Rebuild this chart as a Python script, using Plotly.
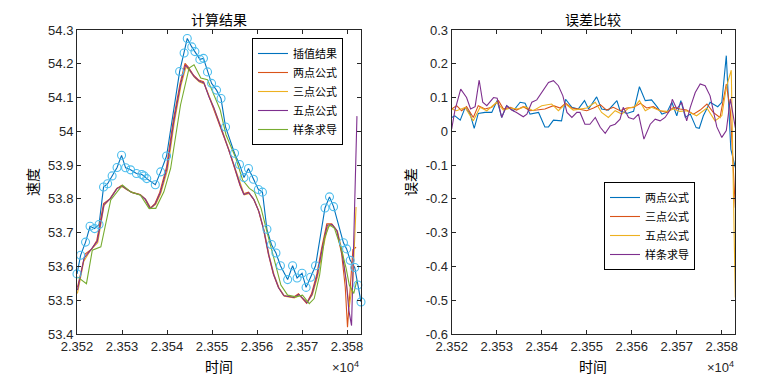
import plotly.graph_objects as go

T0 = 23520
# ---- left: observed / interpolated speed (time offset from 23520, value)
obs_t = [0.0, 0.8, 1.9, 2.9, 3.9, 4.9, 5.9, 6.8, 7.8, 8.9, 9.9, 10.8, 11.9, 13.2, 14.4, 14.9, 15.5, 17.4, 18.6, 19.9,
         22.8, 23.8, 24.5, 25.5, 26.2, 27.3, 28.1, 29.0, 29.9, 31.0, 32.0, 33.0, 35.0, 36.1, 37.1, 38.1, 39.2, 40.3,
         41.2, 42.2, 43.2, 44.2, 45.2, 46.8, 47.9, 48.9, 50.0, 50.9, 51.9, 53.0, 55.1, 56.1, 57.0, 59.2, 59.9, 60.7,
         61.7, 62.4, 63.1]
obs_v = [53.578, 53.633, 53.672, 53.719, 53.712, 53.724, 53.835, 53.845, 53.868, 53.893, 53.929, 53.892, 53.886,
         53.875, 53.872, 53.868, 53.860, 53.842, 53.880, 53.927, 54.177, 54.232, 54.275, 54.250, 54.236, 54.213,
         54.216, 54.176, 54.142, 54.122, 54.097, 54.013, 53.935, 53.902, 53.863, 53.890, 53.858, 53.828, 53.820,
         53.710, 53.665, 53.640, 53.602, 53.561, 53.602, 53.566, 53.580, 53.538, 53.568, 53.602, 53.773, 53.806,
         53.777, 53.670, 53.652, 53.618, 53.597, 53.545, 53.495]

two_t = [0.1, 1.8, 3.3, 4.4, 5.9, 7.3, 8.8, 9.9, 11.0, 12.1, 14.0, 15.1, 16.2, 17.3, 18.4, 19.9, 21.4, 22.9, 24.0,
         24.7, 25.9, 27.0, 28.1, 29.2, 30.3, 31.4, 32.5, 33.6, 34.7, 36.2, 37.0, 38.1, 39.2, 40.3, 41.4, 42.5, 43.6,
         44.7, 45.9, 48.1, 49.2, 49.9, 51.0, 52.1, 53.3, 54.4, 55.5, 56.6, 57.7, 58.8, 59.6, 60.1, 61.3, 62.0]
two_v = [53.538, 53.637, 53.652, 53.677, 53.786, 53.800, 53.830, 53.840, 53.830, 53.820, 53.813, 53.800, 53.771,
         53.786, 53.820, 53.895, 54.033, 54.142, 54.201, 54.191, 54.166, 54.152, 54.147, 54.107, 54.073, 54.033,
         53.993, 53.949, 53.904, 53.840, 53.815, 53.820, 53.800, 53.766, 53.712, 53.637, 53.578, 53.539, 53.514,
         53.509, 53.519, 53.509, 53.491, 53.519, 53.578, 53.657, 53.726, 53.726, 53.707, 53.637, 53.539, 53.420,
         53.650, 53.657]

three_t = [0.1, 1.5, 3.0, 4.6, 6.0, 7.5, 9.0, 10.1, 11.2, 12.3, 14.1, 15.3, 16.4, 17.5, 18.6, 20.1, 21.6, 23.1, 24.2,
           24.9, 26.1, 27.2, 28.3, 29.4, 30.5, 31.6, 32.7, 33.8, 34.9, 36.4, 37.2, 38.3, 39.4, 40.5, 41.6, 42.7, 43.8,
           44.9, 46.1, 48.3, 49.4, 50.1, 51.2, 52.3, 53.5, 54.6, 55.7, 56.8, 57.9, 59.0, 59.8, 60.5, 61.3, 62.0]
three_v = [53.520, 53.615, 53.648, 53.670, 53.780, 53.803, 53.833, 53.836, 53.826, 53.818, 53.812, 53.798, 53.773,
           53.784, 53.816, 53.885, 54.025, 54.135, 54.190, 54.182, 54.160, 54.146, 54.140, 54.100, 54.066, 54.028,
           53.988, 53.944, 53.900, 53.838, 53.812, 53.816, 53.796, 53.760, 53.705, 53.632, 53.575, 53.536, 53.512,
           53.507, 53.515, 53.506, 53.494, 53.516, 53.572, 53.650, 53.718, 53.722, 53.703, 53.640, 53.560, 53.480,
           53.560, 53.776]

five_t = [0.1, 1.6, 3.1, 4.5, 6.0, 7.4, 8.9, 10.0, 11.1, 12.2, 14.0, 15.2, 16.3, 17.4, 18.5, 20.0, 21.5, 23.0, 24.1,
          24.8, 26.0, 27.1, 28.2, 29.3, 30.4, 31.5, 32.6, 33.7, 34.8, 36.3, 37.1, 38.2, 39.3, 40.4, 41.5, 42.6, 43.7,
          44.8, 46.0, 48.2, 49.3, 50.0, 51.1, 52.2, 53.4, 54.5, 55.6, 56.7, 57.8, 58.9, 59.8, 60.4, 61.0, 62.2]
five_v = [53.530, 53.625, 53.650, 53.674, 53.783, 53.801, 53.831, 53.838, 53.828, 53.819, 53.812, 53.799, 53.772,
          53.785, 53.818, 53.890, 54.029, 54.138, 54.196, 54.186, 54.163, 54.149, 54.143, 54.103, 54.070, 54.030,
          53.990, 53.946, 53.902, 53.839, 53.813, 53.818, 53.798, 53.763, 53.708, 53.634, 53.576, 53.537, 53.513,
          53.508, 53.517, 53.507, 53.492, 53.517, 53.575, 53.654, 53.722, 53.724, 53.705, 53.637, 53.560, 53.470,
          53.425, 54.045]

spl_t = [0.1, 2.1, 3.4, 5.3, 7.5, 10.1, 11.9, 14.1, 16.0, 17.5, 19.3, 20.8, 23.0, 24.9, 26.0, 27.5, 29.0, 30.4,
         31.8, 33.1, 35.3, 36.8, 38.3, 39.4, 40.9, 42.4, 43.9, 45.3, 46.8, 48.7, 50.1, 51.6, 52.7, 53.9, 55.0, 56.1,
         57.2, 58.7, 59.8, 60.5, 61.5, 62.2]
spl_v = [53.569, 53.549, 53.648, 53.658, 53.797, 53.841, 53.821, 53.811, 53.772, 53.772, 53.821, 53.890, 54.078,
         54.187, 54.197, 54.158, 54.153, 54.108, 54.064, 53.990, 53.920, 53.856, 53.831, 53.821, 53.772, 53.693,
         53.614, 53.545, 53.515, 53.510, 53.515, 53.490, 53.505, 53.574, 53.683, 53.723, 53.713, 53.653, 53.594,
         53.545, 53.520, 53.560]

# ---- right: errors
e2_t = [0, 0.7, 1.9, 3.0, 4.1, 5.0, 5.9, 7.4, 8.9, 10.1, 11.1, 12.2, 13.7, 15.2, 16.3, 17.4, 19.3, 20.7, 21.5, 22.6,
        24.4, 25.3, 26.7, 28.1, 29.5, 30.4, 32.2, 33.3, 34.8, 36.7, 37.4, 38.9, 40.4, 41.7, 43.0, 44.4, 45.6, 46.7,
        47.8, 48.9, 50.0, 50.9, 51.9, 53.0, 54.3, 55.0, 55.9, 57.4, 59.1, 60.0, 61.0, 62.0, 63.0]
e2_v = [0.041, 0.046, 0.033, 0.071, 0.051, 0.009, 0.053, 0.056, 0.056, 0.091, 0.041, 0.076, 0.061, 0.086, 0.083,
        0.051, 0.056, 0.013, 0.013, 0.033, 0.031, 0.095, 0.071, 0.066, 0.091, 0.066, 0.102, 0.066, 0.063, 0.091,
        0.061, 0.053, 0.059, 0.132, 0.091, 0.093, 0.073, 0.051, 0.056, 0.086, 0.046, 0.091, 0.041, 0.051, 0.011,
        0.009, 0.046, 0.086, 0.073, 0.086, 0.224, -0.053, -0.107]

e3_t = [0, 1.1, 2.2, 3.3, 4.8, 5.9, 7.4, 8.9, 10.4, 11.5, 13.0, 14.4, 15.9, 17.4, 18.9, 20.7, 22.6, 24.1, 25.3, 26.7,
        28.1, 30.0, 31.5, 33.0, 34.4, 35.9, 37.4, 38.9, 40.4, 41.9, 43.3, 44.8, 46.3, 47.8, 49.3, 50.7, 52.2, 53.7,
        55.2, 56.7, 58.1, 59.6, 61.0, 61.9, 63.0]
e3_v = [0.066, 0.076, 0.061, 0.073, 0.041, 0.076, 0.066, 0.071, 0.091, 0.066, 0.071, 0.063, 0.073, 0.061, 0.063,
        0.066, 0.076, 0.069, 0.083, 0.069, 0.066, 0.061, 0.069, 0.079, 0.063, 0.071, 0.061, 0.069, 0.071, 0.083,
        0.069, 0.073, 0.061, 0.056, 0.071, 0.066, 0.063, 0.051, 0.063, 0.081, 0.056, 0.041, 0.140, 0.061, -0.226]

e5_t = [0, 1.1, 3.0, 4.8, 6.3, 7.8, 10.0, 11.5, 13.0, 14.8, 16.3, 18.1, 20.0, 22.2, 23.7, 25.3, 27.0, 28.5, 30.0,
        31.9, 33.3, 34.8, 36.3, 37.8, 39.3, 40.7, 41.7, 43.0, 44.4, 46.3, 47.8, 49.3, 50.7, 52.2, 54.4, 56.7, 58.5,
        60.0, 61.0, 62.1, 63.0]
e5_v = [0.066, 0.061, 0.071, 0.031, 0.071, 0.061, 0.086, 0.063, 0.069, 0.066, 0.073, 0.061, 0.076, 0.081, 0.061,
        0.081, 0.063, 0.066, 0.069, 0.086, 0.056, 0.041, 0.061, 0.051, 0.069, 0.073, 0.091, 0.061, 0.071, 0.061,
        0.059, 0.066, 0.059, 0.061, 0.046, 0.069, 0.031, 0.046, 0.130, 0.181, -0.492]

es_t = [0, 0.7, 2.0, 3.3, 4.2, 5.2, 6.1, 6.9, 7.8, 9.3, 10.1, 11.1, 12.2, 13.3, 14.4, 15.9, 16.7, 17.8, 18.9, 20.0,
        21.5, 22.6, 23.7, 24.7, 25.6, 26.7, 27.8, 28.5, 29.6, 30.7, 31.9, 33.0, 34.1, 35.2, 36.3, 37.4, 38.1, 39.3,
        40.4, 41.5, 42.7, 44.1, 45.2, 46.3, 47.4, 48.5, 49.0, 50.0, 51.1, 52.2, 53.0, 54.1, 55.2, 56.3, 57.4, 58.9,
        60.0, 61.0, 61.9, 63.0]
es_v = [0.007, 0.061, 0.125, 0.100, 0.066, 0.073, 0.152, 0.086, 0.076, 0.100, 0.098, 0.041, 0.076, 0.063, 0.056,
        0.043, 0.051, 0.086, 0.093, 0.115, 0.145, 0.150, 0.135, 0.105, 0.056, 0.041, 0.056, 0.056, 0.021, 0.021,
        0.041, 0.012, -0.006, 0.016, 0.021, 0.036, 0.071, 0.041, 0.036, 0.051, -0.023, 0.021, 0.036, 0.031, 0.041,
        0.063, 0.095, 0.066, 0.086, 0.031, 0.071, 0.115, 0.140, 0.135, 0.105, 0.013, -0.018, 0.002, 0.096, 0.011]

x_tickvals = [23520, 23530, 23540, 23550, 23560, 23570, 23580]
x_ticktext = ["2.352", "2.353", "2.354", "2.355", "2.356", "2.357", "2.358"]
y1_tickvals = [53.4, 53.5, 53.6, 53.7, 53.8, 53.9, 54.0, 54.1, 54.2, 54.3]
y1_ticktext = ["53.4", "53.5", "53.6", "53.7", "53.8", "53.9", "54", "54.1", "54.2", "54.3"]
y2_tickvals = [-0.6, -0.5, -0.4, -0.3, -0.2, -0.1, 0.0, 0.1, 0.2, 0.3]
y2_ticktext = ["-0.6", "-0.5", "-0.4", "-0.3", "-0.2", "-0.1", "0", "0.1", "0.2", "0.3"]

BLUE, RED, YEL, PUR, GRN, CYAN = "#0072BD", "#D95319", "#EDB120", "#7E2F8E", "#77AC30", "#4DBEEE"
CJK = "Noto Sans CJK SC"
NUM = "Liberation Sans, Arial, sans-serif"
AX = "#262626"

def absT(ts):
    return [T0 + t for t in ts]

fig = go.Figure()
lw = 1.1
fig.add_trace(go.Scatter(x=absT(obs_t), y=obs_v, mode="lines", name="插值结果",
                         line=dict(color=BLUE, width=lw), legend="legend"))
fig.add_trace(go.Scatter(x=absT(two_t), y=two_v, mode="lines", name="两点公式",
                         line=dict(color=RED, width=lw), legend="legend"))
fig.add_trace(go.Scatter(x=absT(three_t), y=three_v, mode="lines", name="三点公式",
                         line=dict(color=YEL, width=lw), legend="legend"))
fig.add_trace(go.Scatter(x=absT(five_t), y=five_v, mode="lines", name="五点公式",
                         line=dict(color=PUR, width=lw), legend="legend"))
fig.add_trace(go.Scatter(x=absT(spl_t), y=spl_v, mode="lines", name="样条求导",
                         line=dict(color=GRN, width=lw), legend="legend"))
fig.add_trace(go.Scatter(x=absT(obs_t), y=obs_v, mode="markers", showlegend=False, cliponaxis=False,
                         marker=dict(symbol="circle-open", size=8, color=CYAN, line=dict(width=1.1, color=CYAN))))

fig.add_trace(go.Scatter(x=absT(e2_t), y=e2_v, mode="lines", name="两点公式", xaxis="x2", yaxis="y2",
                         line=dict(color=BLUE, width=lw), legend="legend2"))
fig.add_trace(go.Scatter(x=absT(e3_t), y=e3_v, mode="lines", name="三点公式", xaxis="x2", yaxis="y2",
                         line=dict(color=RED, width=lw), legend="legend2"))
fig.add_trace(go.Scatter(x=absT(e5_t), y=e5_v, mode="lines", name="五点公式", xaxis="x2", yaxis="y2",
                         line=dict(color=YEL, width=lw), legend="legend2"))
fig.add_trace(go.Scatter(x=absT(es_t), y=es_v, mode="lines", name="样条求导", xaxis="x2", yaxis="y2",
                         line=dict(color=PUR, width=lw), legend="legend2"))

W, H = 780, 378
OFF = 8  # page body margin
def px_x(p): return (p - OFF) / W
def px_y(p): return 1 - (p - OFF) / H

axis_common = dict(showline=True, linecolor=AX, linewidth=1, mirror="ticks", ticks="inside", ticklen=4,
                   tickcolor=AX, showgrid=False, zeroline=False, automargin=False,
                   tickfont=dict(family=NUM, size=13, color=AX))

fig.update_layout(
    width=W, height=H, margin=dict(l=0, r=0, t=0, b=0, autoexpand=False),
    paper_bgcolor="white", plot_bgcolor="white",
    xaxis=dict(domain=[px_x(77), px_x(361)], range=[23520, 23583.1], anchor="y",
               tickvals=x_tickvals, ticktext=x_ticktext, **axis_common),
    yaxis=dict(domain=[px_y(334), px_y(30)], range=[53.4, 54.3], anchor="x",
               tickvals=y1_tickvals, ticktext=y1_ticktext, **axis_common),
    xaxis2=dict(domain=[px_x(451.7), px_x(735.3)], range=[23520, 23583], anchor="y2",
                tickvals=x_tickvals, ticktext=x_ticktext, **axis_common),
    yaxis2=dict(domain=[px_y(334), px_y(30)], range=[-0.6, 0.3], anchor="x2",
                tickvals=y2_tickvals, ticktext=y2_ticktext, **axis_common),
    legend=dict(x=px_x(252), y=px_y(38), xanchor="left", yanchor="top", bgcolor="white",
                bordercolor="#000000", borderwidth=1, font=dict(family=CJK, size=11, color="#000000"),
                tracegroupgap=0, itemwidth=30),
    legend2=dict(x=px_x(604), y=px_y(182), xanchor="left", yanchor="top", bgcolor="white",
                 bordercolor="#000000", borderwidth=1, font=dict(family=CJK, size=11, color="#000000"),
                 tracegroupgap=0, itemwidth=30),
    showlegend=True,
)

ann_font = dict(family=CJK, size=14, color="#000000")
for xc, txt in ((219, "计算结果"), (593, "误差比较")):
    fig.add_annotation(xref="paper", yref="paper", showarrow=False, font=ann_font, text=txt,
                       x=px_x(xc), y=1.0, xanchor="center", yanchor="top", borderpad=0)
anns = [
    dict(text="时间", x=px_x(219), y=px_y(366), xanchor="center", yanchor="middle"),
    dict(text="时间", x=px_x(593), y=px_y(366), xanchor="center", yanchor="middle"),
    dict(text="速度", x=px_x(32), y=px_y(182), xanchor="center", yanchor="middle", textangle=-90),
    dict(text="误差", x=px_x(410), y=px_y(182), xanchor="center", yanchor="middle", textangle=-90),
]
for a in anns:
    fig.add_annotation(xref="paper", yref="paper", showarrow=False, font=ann_font, **a)
for xc in (345, 720):
    fig.add_annotation(xref="paper", yref="paper", showarrow=False, x=px_x(xc), y=px_y(367),
                       xanchor="center", yanchor="middle", text="×10<sup>4</sup>",
                       font=dict(family=NUM, size=13, color=AX))

fig.write_html("out.html")
